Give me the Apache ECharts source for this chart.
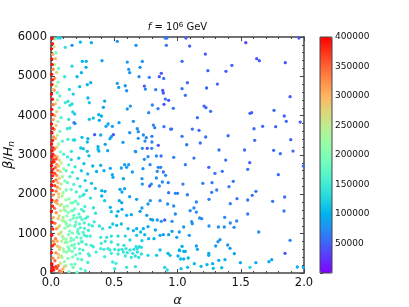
<!DOCTYPE html>
<html><head><meta charset="utf-8">
<script src="https://cdn.jsdelivr.net/npm/echarts@6/dist/echarts.min.js"></script>
<style>html,body{margin:0;padding:0;background:#fff}#c{width:409px;height:307px}</style>
</head><body><div id="c"></div>
<script>
// ---- axis ticks ----
const xTicks = [0.0, 0.5, 1.0, 1.5, 2.0];
const yTicks = [0, 1000, 2000, 3000, 4000, 5000, 6000];
const colorbarTicks = [50000, 100000, 150000, 200000, 250000, 300000, 350000, 400000];
// matplotlib "rainbow" colormap samples
const rainbow = ['#8000ff','#6032fe','#4062fa','#208ef4','#00b4ec','#20d4e1','#40ecd4','#60fac5','#80ffb4','#9ffaa2','#bfec8e','#dfd478','#ffb462','#ff8e4a','#ff6232','#ff3219','#ff0000'];

// ---- data: [alpha, beta/H_n, value] ----
const redStrip = [[0.005,60,395000],[0.012,140,390000],[0.018,90,385000],[0.008,230,398000],[0.015,380,330000],[0.004,520,392000],[0.011,690,388000],[0.019,810,320000],[0.006,960,396000],[0.014,1120,384000],[0.009,1290,390000],[0.017,1410,310000],[0.003,1560,398000],[0.012,1700,386000],[0.007,1850,393000],[0.016,1980,340000],[0.010,2100,391000],[0.005,2240,397000],[0.018,2330,376000],[0.013,2470,388000],[0.008,2560,395000],[0.015,2640,382000],[0.004,2730,399000],[0.011,2810,390000],[0.019,2880,370000],[0.007,2950,394000],[0.014,3020,386000],[0.009,3110,392000],[0.016,3190,378000],[0.005,3280,397000],[0.012,3370,389000],[0.018,3460,330000],[0.008,3560,394000],[0.013,3680,384000],[0.004,3790,398000],[0.017,3900,320000],[0.010,4030,390000],[0.006,4160,395000],[0.015,4280,340000],[0.011,4420,388000],[0.004,4550,398000],[0.018,4660,300000],[0.008,4790,392000],[0.013,4910,384000],[0.005,5050,396000],[0.016,5180,330000],[0.010,5300,390000],[0.007,5440,394000],[0.014,5560,310000],[0.004,5700,397000],[0.012,5830,386000],[0.009,5960,392000]];

const nearAxisUpper = [[0.03,5950,200000],[0.025,5750,260000],[0.04,5600,190000],[0.035,5450,300000],[0.028,5300,240000],[0.06,5200,180000],[0.045,5100,270000],[0.03,4950,320000],[0.055,4850,200000],[0.04,4750,250000],[0.025,4650,340000],[0.07,4500,170000],[0.05,4400,230000],[0.035,4300,290000],[0.065,4200,180000],[0.045,4100,260000],[0.03,4000,310000],[0.08,3950,160000],[0.055,3850,220000],[0.04,3750,280000],[0.025,3650,330000],[0.07,3600,190000],[0.05,3500,250000],[0.035,3420,300000],[0.09,3350,170000],[0.06,3280,230000],[0.045,3200,280000],[0.028,3150,340000],[0.075,3080,200000],[0.1,3020,160000]];

const leftUpper = [[0.055,5974,130000],[0.073,5974,125000],[0.113,5737,135000],[0.166,5788,80000],[0.232,5872,100000],[0.319,5855,95000],[0.166,5262,120000],[0.248,5381,100000],[0.279,5381,98000],[0.277,5228,96000],[0.24,5092,100000],[0.206,4991,105000],[0.108,4991,140000],[0.314,4838,98000],[0.287,4787,100000],[0.227,4736,110000],[0.145,4668,130000],[0.176,4550,120000],[0.292,4449,100000],[0.05,4584,170000],[0.113,4330,150000],[0.134,4364,140000],[0.150,4262,135000],[0.166,4296,130000],[0.303,4330,115000],[0.172,4093,125000],[0.187,4042,120000],[0.377,4024,100000],[0.303,3907,110000],[0.334,3940,105000],[0.14,3907,140000],[0.182,3821,60000],[0.190,3800,80000],[0.129,3668,145000],[0.150,3686,140000],[0.345,3516,45000],[0.134,3398,150000],[0.176,3381,135000],[0.187,3381,130000],[0.245,3449,110000],[0.292,3414,105000],[0.287,3330,108000],[0.235,3178,115000],[0.255,3160,112000],[0.287,3093,110000],[0.161,3093,140000]];

const leftMid = [[0.03,2980,330000],[0.05,2950,300000],[0.04,2900,360000],[0.065,2870,280000],[0.025,2830,370000],[0.08,2800,250000],[0.045,2760,320000],[0.06,2720,290000],[0.035,2680,350000],[0.1,2650,220000],[0.055,2610,310000],[0.075,2570,260000],[0.03,2530,360000],[0.045,2480,330000],[0.09,2450,230000],[0.065,2410,280000],[0.04,2370,340000],[0.11,2340,200000],[0.055,2300,300000],[0.08,2260,250000],[0.03,2220,370000],[0.05,2180,320000],[0.07,2140,270000],[0.12,2110,190000],[0.04,2080,340000],[0.095,2040,230000],[0.06,2010,290000],
[0.13,2950,150000],[0.16,2880,130000],[0.22,2920,115000],[0.30,2980,105000],[0.14,2750,160000],[0.19,2700,140000],[0.26,2780,110000],[0.33,2720,100000],[0.12,2600,175000],[0.17,2560,150000],[0.24,2600,120000],[0.29,2520,110000],[0.36,2580,100000],[0.15,2450,160000],[0.21,2400,135000],[0.27,2350,120000],[0.13,2300,180000],[0.18,2250,160000],[0.23,2200,140000],[0.32,2280,110000],[0.35,2150,115000],[0.16,2120,170000],[0.20,2060,155000],[0.28,2100,125000],[0.26,2000,135000]];

const leftLow = [
[0.034,1812,310000],[0.087,1957,240000],[0.142,1884,200000],[0.061,1930,275000],[0.195,1826,178000],[0.251,1971,150000],[0.118,1860,215000],[0.312,1905,135000],[0.046,1845,330000],[0.173,1790,185000],[0.228,1938,165000],
[0.028,1643,345000],[0.072,1722,265000],[0.158,1781,192000],[0.103,1611,225000],[0.214,1755,172000],[0.268,1690,155000],[0.049,1768,300000],[0.187,1632,182000],[0.129,1704,205000],[0.336,1659,140000],[0.083,1745,250000],[0.241,1618,162000],
[0.041,1533,320000],[0.096,1412,232000],[0.162,1578,190000],[0.064,1455,270000],[0.221,1497,170000],[0.137,1540,200000],[0.289,1428,150000],[0.181,1466,184000],[0.113,1589,215000],[0.258,1573,158000],[0.352,1521,138000],[0.077,1581,255000],[0.205,1402,176000],
[0.031,1262,340000],[0.088,1341,238000],[0.149,1215,196000],[0.057,1383,285000],[0.197,1296,180000],[0.245,1358,164000],[0.121,1271,208000],[0.301,1229,150000],[0.175,1392,188000],[0.068,1205,265000],[0.226,1247,170000],[0.104,1318,222000],[0.273,1389,158000],[0.341,1302,145000],
[0.044,1127,318000],[0.081,1046,245000],[0.132,1183,202000],[0.169,1015,189000],[0.213,1102,174000],[0.059,1168,280000],[0.254,1034,163000],[0.109,1139,218000],[0.187,1191,183000],[0.296,1082,152000],[0.147,1063,196000],[0.073,1012,258000],[0.232,1155,168000],[0.327,1196,148000],
[0.036,872,335000],[0.092,931,235000],[0.156,818,193000],[0.061,986,275000],[0.118,857,212000],[0.204,904,178000],[0.263,961,160000],[0.178,843,186000],[0.139,975,200000],[0.083,812,248000],[0.237,888,167000],[0.311,940,152000],[0.049,808,300000],[0.221,996,172000],
[0.027,733,350000],[0.071,654,262000],[0.128,781,205000],[0.164,702,191000],[0.097,612,230000],[0.219,749,173000],[0.186,638,183000],[0.052,681,292000],[0.278,726,158000],[0.143,619,198000],[0.241,795,165000],[0.334,668,148000],[0.111,770,218000],
[0.039,512,325000],[0.083,436,248000],[0.145,571,197000],[0.066,598,268000],[0.196,463,180000],[0.122,527,208000],[0.253,584,162000],[0.171,409,188000],[0.101,552,225000],[0.304,441,155000],[0.228,497,168000],[0.058,475,282000],[0.357,533,150000],
[0.031,311,345000],[0.076,248,255000],[0.134,372,200000],[0.189,226,182000],[0.058,389,285000],[0.243,337,164000],[0.107,291,220000],[0.161,214,192000],[0.291,268,156000],[0.212,359,175000],[0.087,396,240000],
[0.022,74,385000],[0.047,121,360000],[0.068,52,340000],[0.093,98,300000],[0.038,163,375000],[0.118,187,215000],[0.176,142,188000],[0.142,36,198000],[0.236,104,168000],[0.083,29,320000],[0.271,58,160000],[0.057,186,350000],[0.205,17,178000],[0.014,145,395000],[0.105,160,280000],
[0.152,1345,195000],[0.193,1226,182000],[0.126,1452,205000],[0.172,1587,186000],[0.231,1422,168000],[0.265,1136,160000],[0.209,1043,176000],[0.158,888,194000],[0.247,793,165000],[0.184,721,184000],[0.134,665,200000],[0.283,935,155000],[0.226,609,170000],[0.167,548,190000],[0.318,703,150000],[0.296,486,152000],[0.263,1272,158000],[0.119,1249,210000],[0.098,883,228000],[0.105,1679,222000]];

const midUpper = [[0.524,5890,80000],[0.672,5788,75000],[0.912,5788,62000],[0.903,5974,60000],[0.916,5974,58000],[0.403,5397,88000],[0.603,5363,80000],[0.722,5380,74000],[0.614,5177,78000],[0.704,5228,76000],[0.622,5092,80000],[0.872,5076,42000],[0.856,4991,44000],[0.891,4948,60000],[0.696,4991,72000],[0.777,4974,70000],[0.524,4821,85000],[0.535,4719,84000],[0.587,4761,80000],[0.598,4634,78000],[0.738,4753,42000],[0.746,4677,70000],[0.828,4660,66000],[0.883,4643,45000],[0.888,4576,44000],[0.904,4423,62000],[0.930,4389,40000],[0.424,4372,90000],[0.414,4212,88000],[0.627,4245,80000],[0.603,4169,82000],[0.801,4271,68000],[0.893,4288,42000],[0.846,4177,66000],[0.967,4186,60000],[0.772,4075,70000],[0.398,3991,95000],[0.382,3881,96000],[0.538,3821,86000],[0.651,3855,80000],[0.451,3788,92000],[0.435,3729,90000],[0.485,3729,88000],[0.809,3762,68000],[0.82,3694,66000],[0.893,3720,64000],[0.946,3660,42000],[0.954,3660,60000],[0.682,3668,76000],[0.69,3592,75000],[0.622,3567,80000],[0.73,3508,74000],[0.753,3440,72000],[0.798,3475,70000],[0.393,3508,95000],[0.493,3516,45000],[0.477,3465,88000],[0.466,3414,90000],[0.69,3424,76000],[0.743,3355,72000],[0.798,3330,68000],[0.569,3322,85000],[0.429,3271,92000],[0.848,3246,42000],[0.372,3211,96000],[0.372,3144,110000],[0.448,3109,92000],[0.669,3084,78000],[0.722,3170,74000],[0.761,3170,44000],[0.796,3170,70000]];

const midLower = [[0.379,3101,98000],[0.667,3093,80000],[0.767,2957,75000],[0.833,2974,72000],[0.870,2974,55000],[0.97,2940,66000],[0.393,2737,96000],[0.469,2661,92000],[0.556,2669,88000],[0.582,2753,85000],[0.614,2753,84000],[0.598,2686,86000],[0.727,2652,78000],[0.738,2890,76000],[0.783,2753,74000],[0.848,2686,72000],[0.867,2686,70000],[0.840,2585,73000],[0.888,2568,55000],[0.419,2601,95000],[0.643,2568,84000],[0.485,2499,92000],[0.490,2432,93000],[0.572,2397,88000],[0.719,2397,80000],[0.833,2415,76000],[0.906,2483,72000],[0.880,2313,74000],[0.927,2296,70000],[0.793,2262,76000],[0.780,2212,45000],[0.722,2262,80000],[0.856,2212,75000],[0.545,2128,90000],[0.561,2059,92000],[0.582,2143,88000],[0.401,2093,100000],[0.427,2076,98000],[0.401,1957,102000],[0.622,1940,88000],[0.677,1873,86000],[0.785,1838,80000],[0.862,1838,78000],[0.930,2042,60000],[0.983,2025,72000],[0.540,1838,92000],[0.559,1787,94000],[0.424,1838,120000],[0.719,1652,86000],[0.767,1754,82000],[0.922,1754,76000],[0.970,1703,74000],[0.469,1669,100000],[0.477,1559,115000],[0.530,1567,100000],[0.561,1618,96000],[0.519,1449,104000],[0.598,1466,98000],[0.635,1483,95000],[0.704,1567,88000],[0.757,1466,86000],[0.788,1364,84000],[0.804,1347,86000],[0.840,1347,82000],[0.872,1313,80000],[0.899,1347,45000],[0.957,1313,78000],[0.983,1500,74000],[0.382,1195,135000],[0.408,1127,140000],[0.466,1161,125000],[0.488,1246,115000],[0.519,1212,112000],[0.556,1246,108000],[0.609,1127,110000],[0.651,1076,108000],[0.677,1127,100000],[0.709,1042,104000],[0.730,1127,98000],[0.767,1178,94000],[0.825,1093,90000],[0.862,958,92000],[0.888,974,90000],[0.930,974,88000],[0.957,1059,85000],[1.014,1042,84000],[0.741,974,105000],[0.677,958,115000],[0.587,940,125000],[0.530,940,130000],[0.477,940,135000],[0.440,907,140000],[0.393,907,145000],[0.814,872,100000],[0.772,872,105000],[0.994,907,88000],[0.624,839,130000],[0.719,821,120000],[0.429,805,145000],[0.398,754,150000],[0.477,788,142000],[0.530,720,140000],[0.577,703,138000],[0.672,669,135000],[0.698,669,132000],[0.714,652,130000],[0.862,585,110000],[1.014,585,100000],[0.419,602,150000],[0.393,618,155000],[0.451,618,148000],[0.466,585,150000],[0.504,602,145000],[0.535,585,145000],[0.561,602,142000],[0.593,618,140000],[0.624,585,140000],[0.656,602,138000],[0.682,618,135000],[0.572,534,145000],[0.603,516,142000],[0.646,500,140000],[0.682,534,138000],[0.714,483,135000],[0.767,449,125000],[0.530,483,148000],[0.477,500,150000],[0.424,415,155000],[0.587,432,145000],[0.635,399,142000],[0.667,432,140000],[0.693,399,138000],[0.835,449,115000],[0.925,500,105000],[0.941,449,108000],[1.004,432,100000],[0.488,280,150000],[0.514,246,150000],[0.667,161,140000],[0.598,144,145000],[0.899,144,125000],[0.919,76,130000],[0.504,110,150000]];

const rightUpper = [[1.067,5974,48000],[1.096,5770,45000],[1.22,5567,42000],[1.036,5381,52000],[1.54,5855,38000],[1.626,5448,44000],[1.647,5397,46000],[1.852,5346,43000],[1.96,5974,40000],[1.43,5279,50000],[1.24,5143,52000],[1.383,5127,49000],[1.078,4838,55000],[1.315,4804,51000],[1.036,4685,56000],[1.23,4703,50000],[1.062,4516,57000],[1.89,4482,45000],[1.21,4245,55000],[1.225,4202,53000],[1.262,4110,56000],[1.573,4059,50000],[1.586,4075,47000],[1.763,4135,52000],[1.157,3948,58000],[1.844,3991,51000],[1.86,3855,53000],[1.97,3838,49000],[1.117,3660,57000],[1.17,3627,55000],[1.605,3668,54000],[1.673,3729,52000],[1.776,3720,50000],[1.036,3475,60000],[1.223,3457,56000],[1.40,3490,55000],[1.61,3373,54000],[1.895,3389,50000],[1.073,3261,58000],[1.18,3305,57000],[1.328,3127,59000],[1.53,3127,55000],[1.76,3118,53000],[1.813,3033,56000],[1.913,3101,54000]];

const rightLower = [[1.13,2923,60000],[1.062,2753,62000],[1.247,2686,48000],[1.381,2872,58000],[1.571,2804,50000],[1.296,2534,60000],[1.354,2585,58000],[1.555,2636,59000],[1.797,2499,55000],[1.995,2720,57000],[1.043,2262,66000],[1.20,2280,63000],[1.273,2296,64000],[1.441,2331,60000],[1.407,2194,62000],[1.31,2110,64000],[1.27,2051,65000],[1.62,2076,60000],[1.591,1975,61000],[1.078,1990,66000],[1.0,2025,68000],[1.847,1932,58000],[1.149,1805,70000],[1.249,1873,67000],[1.47,1890,64000],[1.555,1856,63000],[1.752,1822,60000],[1.417,1762,65000],[1.13,1652,72000],[1.10,1584,73000],[1.149,1550,72000],[1.842,1576,62000],[1.555,1500,66000],[1.175,1398,75000],[1.191,1381,74000],[1.373,1415,70000],[1.468,1322,68000],[1.112,1304,78000],[1.117,1253,77000],[1.417,1271,70000],[1.049,1169,82000],[1.249,1195,76000],[1.323,1169,75000],[1.37,1169,73000],[1.447,1161,72000],[1.642,1042,71000],[1.093,958,84000],[1.336,847,80000],[1.32,796,81000],[1.89,830,70000],[1.397,712,80000],[1.302,686,84000],[1.036,678,92000],[1.149,686,88000],[1.415,627,82000],[1.017,568,96000],[1.049,551,94000],[1.062,551,98000],[1.157,602,90000],[1.247,500,92000],[1.247,449,94000],[1.449,491,86000],[1.85,500,45000],[1.025,356,105000],[1.049,356,102000],[1.085,381,100000],[1.326,322,98000],[1.375,339,96000],[1.745,339,88000],[1.133,237,104000],[1.278,237,100000],[1.233,212,102000],[1.497,263,95000],[1.62,263,93000],[1.723,288,90000],[1.186,169,106000],[1.028,110,112000],[1.08,144,110000],[1.283,118,108000],[1.35,135,106000],[1.573,144,125000],[1.947,152,96000],[1.995,144,98000]];

const allPoints = [].concat(rightUpper, rightLower, midUpper, midLower, leftUpper, leftMid, leftLow, nearAxisUpper, redStrip);

const FONT = 'DejaVu Sans';
const AX = '#444';
const chart = echarts.init(document.getElementById('c'), null, {renderer: 'canvas'});

function frameAxis(pos, extra) {
  return Object.assign({
    type: 'value', position: pos,
    axisLine: {show: true, onZero: false, lineStyle: {color: AX, width: 1.5}},
    axisTick: {show: true, inside: true, length: 4, lineStyle: {color: AX, width: 1}},
    minorTick: {show: true, splitNumber: 5, length: 2, lineStyle: {color: AX, width: 1}},
    splitLine: {show: false}, minorSplitLine: {show: false}
  }, extra);
}

chart.setOption({
  animation: false,
  textStyle: {fontFamily: FONT},
  grid: [
    {left: 51, top: 37, width: 253, height: 236, containLabel: false, outerBoundsMode: 'none'},
    {left: 320, top: 37, width: 12, height: 236, containLabel: false, outerBoundsMode: 'none'}
  ],
  xAxis: [
    frameAxis('bottom', {gridIndex: 0, min: xTicks[0], max: xTicks[xTicks.length - 1], interval: 0.5,
      axisLabel: {color: '#111', fontSize: 11.5, fontFamily: FONT, margin: 4, formatter: v => v.toFixed(1)},
      name: 'α', nameLocation: 'middle', nameGap: 15,
      nameTextStyle: {color: '#111', fontSize: 13, fontStyle: 'italic', fontFamily: FONT}}),
    frameAxis('top', {gridIndex: 0, min: xTicks[0], max: xTicks[xTicks.length - 1], interval: 0.5, axisLabel: {show: false}}),
    {gridIndex: 1, type: 'value', min: 0, max: 1, show: false}
  ],
  yAxis: [
    frameAxis('left', {gridIndex: 0, min: yTicks[0], max: yTicks[yTicks.length - 1], interval: 1000,
      axisLabel: {color: '#111', fontSize: 11.5, fontFamily: FONT, margin: 4, formatter: v => String(v)},
      name: '{i|β}/{i|H}{s|n}', nameLocation: 'middle', nameGap: 35, nameMoveOverlap: false,
      nameTextStyle: {color: '#111', fontSize: 13, fontFamily: FONT,
        rich: {i: {fontStyle: 'italic', fontSize: 13, fontFamily: FONT, color: '#111'},
               s: {fontStyle: 'italic', fontSize: 9, fontFamily: FONT, color: '#111', padding: [6, 0, 0, 0], verticalAlign: 'bottom'}}}}),
    frameAxis('right', {gridIndex: 0, min: yTicks[0], max: yTicks[yTicks.length - 1], interval: 1000, axisLabel: {show: false}}),
    {gridIndex: 1, type: 'value', position: 'right', min: 0, max: colorbarTicks[colorbarTicks.length - 1], interval: 50000,
      axisLine: {show: false}, splitLine: {show: false},
      axisTick: {show: true, inside: false, length: 3, lineStyle: {color: AX}},
      axisLabel: {color: '#111', fontSize: 9, fontFamily: FONT, margin: 3,
        formatter: v => (colorbarTicks.indexOf(v) >= 0 ? String(v) : '')}}
  ],
  visualMap: {
    type: 'continuous', show: true, min: 0, max: 400000, dimension: 2, seriesIndex: 0,
    left: 320, top: 37, itemWidth: 12, itemHeight: 236, padding: 0,
    calculable: false, hoverLink: false, text: null, showLabel: false,
    inRange: {color: rainbow}
  },
  graphic: [
    {type: 'rect', z: 100, silent: true, shape: {x: 320, y: 37, width: 12, height: 236},
      style: {fill: 'none', stroke: AX, lineWidth: 1}},
    {type: 'text', z: 100, x: 177.5, y: 22, silent: true,
      style: {text: '{i|f} = 10{p|6} GeV', textAlign: 'center', fill: '#111', fontSize: 10, fontFamily: FONT,
        rich: {i: {fontStyle: 'italic', fontSize: 10, fontFamily: FONT, fill: '#111'},
               p: {fontSize: 7, fontFamily: FONT, fill: '#111', verticalAlign: 'top', padding: [0, 0, 4, 0]}}}}
  ],
  series: [{
    type: 'scatter', xAxisIndex: 0, yAxisIndex: 0, data: allPoints,
    symbol: 'circle', symbolSize: 3.3, itemStyle: {opacity: 1}, emphasis: {disabled: true}
  }]
});
</script></body></html>
